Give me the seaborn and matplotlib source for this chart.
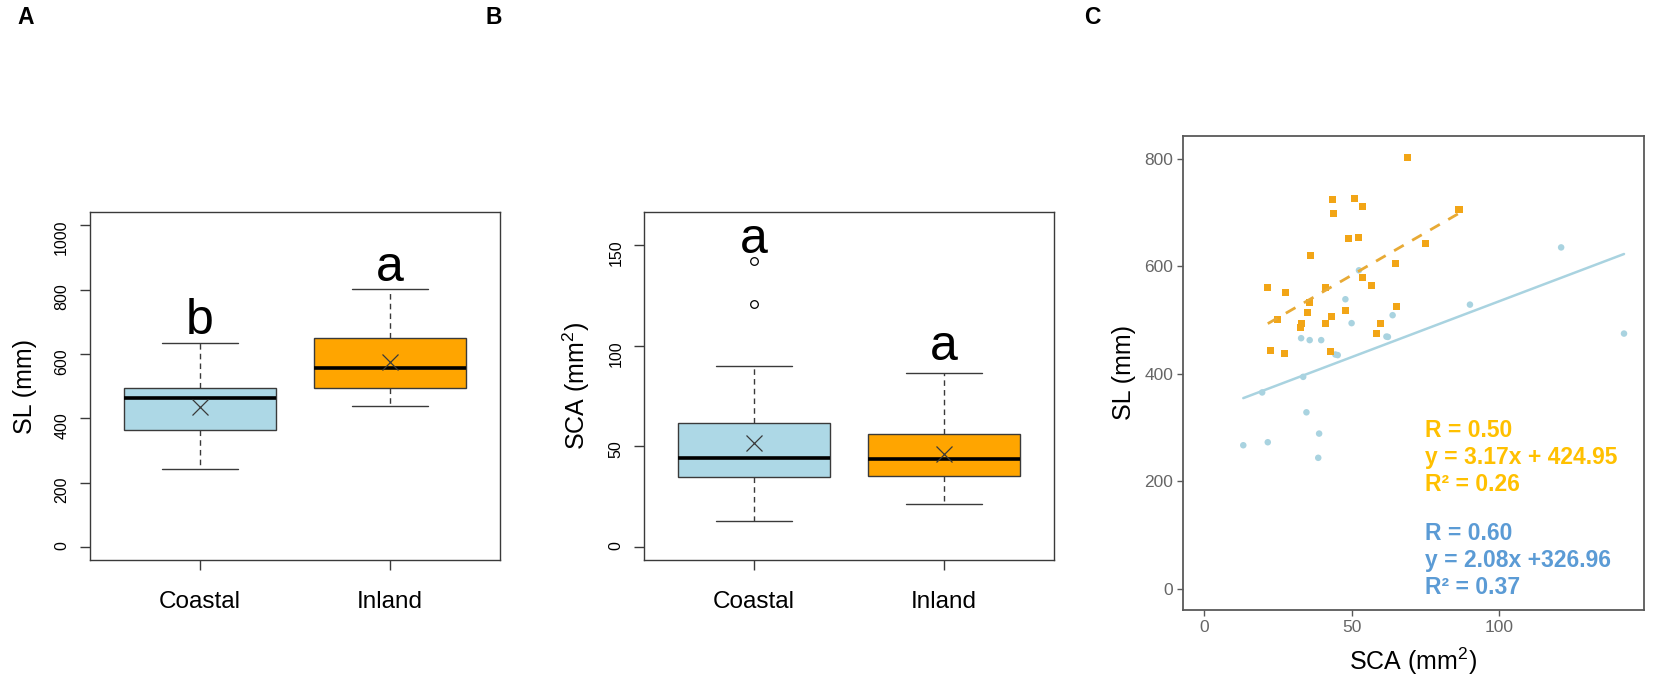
import numpy as np
import pandas as pd
import seaborn as sns
import matplotlib.pyplot as plt

# ---- data ----
sites = ["Coastal", "Inland"]
box_colors = ["#ADD8E6", "#FFA500"]

# coastal fish (SCA mm2, SL mm)
coastal_sca = [13.2, 19.6, 21.5, 32.8, 33.5, 34.6, 35.7, 38.6, 38.9, 39.6, 44.4,
               45.2, 47.8, 49.9, 52.4, 61.7, 62.2, 63.8, 90.0, 120.9, 142.2]
coastal_sl = [266.7, 365.0, 272.3, 466.0, 394.0, 328.0, 462.4, 243.3, 288.4, 462.4, 435.6,
              434.5, 538.5, 494.0, 592.4, 469.0, 468.4, 508.8, 528.5, 635.0, 474.6]

# inland fish
inland_sca = [68.8, 43.5, 50.8, 53.7, 43.7, 86.3, 48.8, 52.3, 74.9, 35.9, 64.8, 21.5,
              41.0, 27.6, 53.5, 56.8, 35.7, 47.9, 35.0, 65.2, 43.0, 24.7, 32.8, 32.5,
              41.1, 59.6, 58.2, 22.4, 27.3, 42.6]
inland_sl = [802.8, 724.8, 726.6, 710.5, 698.8, 706.2, 652.4, 654.2, 642.5, 619.5, 604.6, 560.8,
             560.8, 551.5, 578.6, 564.5, 532.2, 517.4, 513.6, 524.2, 507.0, 500.7, 493.2, 485.2,
             492.7, 492.7, 474.1, 443.8, 437.0, 442.0]

# significance letters and where they sit (baseline, in data units)
letters_sl = ["b", "a"]
letters_sl_y = [662, 827]
letters_sca = ["a", "a"]
letters_sca_y = [146, 93]

# regression fits printed on panel C
fit_slope = {"Inland": 3.17, "Coastal": 2.08}
fit_icpt = {"Inland": 424.95, "Coastal": 326.96}
inland_txt = ["R = 0.50", "y = 3.17x + 424.95", "R² = 0.26"]
coastal_txt = ["R = 0.60", "y = 2.08x +326.96", "R² = 0.37"]

df = pd.DataFrame({
    "site": ["Coastal"] * len(coastal_sca) + ["Inland"] * len(inland_sca),
    "SCA": coastal_sca + inland_sca,
    "SL": coastal_sl + inland_sl,
})

# ---- style ----
sns.set_theme(style="ticks")
plt.rcParams["font.family"] = ["Liberation Sans", "DejaVu Sans"]
plt.rcParams["mathtext.fontset"] = "custom"
plt.rcParams["mathtext.rm"] = "Liberation Sans"
plt.rcParams["mathtext.it"] = "Liberation Sans:italic"
plt.rcParams["mathtext.bf"] = "Liberation Sans:bold"
plt.rcParams["text.color"] = "black"
plt.rcParams["axes.labelcolor"] = "black"
plt.rcParams["xtick.color"] = "black"
plt.rcParams["ytick.color"] = "black"

fig = plt.figure(figsize=(16.54, 6.87), dpi=100)
axA = fig.add_axes([0.0544, 0.1849, 0.2479, 0.5061])
axB = fig.add_axes([0.3895, 0.1849, 0.2477, 0.5061])
axC = fig.add_axes([0.7151, 0.1121, 0.2789, 0.6904])

line_col = "#3a3a3a"
box_kw = dict(
    data=df, x="site", hue="site", order=sites, hue_order=sites,
    palette=box_colors, saturation=1, legend=False, width=0.8, whis=1.5,
    linecolor=line_col, linewidth=1,
    showmeans=True,
    meanprops=dict(marker="x", markeredgecolor=line_col, markersize=11, markeredgewidth=0.9),
    medianprops=dict(color="black", linewidth=2.6),
    whiskerprops=dict(linestyle=(0, (4, 3))),
    flierprops=dict(marker="o", markerfacecolor="none", markeredgecolor="black",
                    markersize=5.5, markeredgewidth=0.9),
    capwidths=0.4,
)


def r_style(ax, ylab, yticks, ylim):
    ax.set_xlim(-0.58, 1.58)
    ax.set_ylim(*ylim)
    ax.set_yticks(yticks)
    ax.set_xlabel("")
    ax.set_ylabel(ylab, fontsize=18)
    for s in ax.spines.values():
        s.set_visible(True)
        s.set_color(line_col)
        s.set_linewidth(1)
    ax.tick_params(axis="both", direction="out", length=7, width=1, color=line_col,
                   labelcolor="black")
    ax.tick_params(axis="y", labelrotation=90, labelsize=11.5, pad=8)
    ax.tick_params(axis="x", labelsize=17.5, pad=15)
    ax.yaxis.set_label_coords(-0.128, 0.5)


# ---- A: SL ----
sns.boxplot(y="SL", ax=axA, **box_kw)
r_style(axA, "SL (mm)", [0, 200, 400, 600, 800, 1000], (-40, 1040))
for i, (lt, yy) in enumerate(zip(letters_sl, letters_sl_y)):
    axA.text(i, yy, lt, fontsize=36, ha="center", va="baseline", color="black")

# ---- B: SCA ----
sns.boxplot(y="SCA", ax=axB, **box_kw)
r_style(axB, "SCA (mm$^2$)", [0, 50, 100, 150], (-6.4, 166.4))
for i, (lt, yy) in enumerate(zip(letters_sca, letters_sca_y)):
    axB.text(i, yy, lt, fontsize=36, ha="center", va="baseline", color="black")

# ---- C: scatter ----
grey = "#595959"
sns.scatterplot(data=df[df.site == "Coastal"], x="SCA", y="SL", ax=axC,
                color="#A9D3E0", marker="o", s=22, edgecolor="none", zorder=2)
cx = df[df.site == "Coastal"].SCA
cx = np.array([cx.min(), cx.max()])
sns.lineplot(x=cx, y=fit_slope["Coastal"] * cx + fit_icpt["Coastal"], ax=axC,
             color="#A9D3E0", linewidth=1.8, zorder=2)
sns.scatterplot(data=df[df.site == "Inland"], x="SCA", y="SL", ax=axC,
                color="#F2A516", marker="s", s=26, edgecolor="none", zorder=3)
ix = df[df.site == "Inland"].SCA
ix = np.array([ix.min(), ix.max()])
sns.lineplot(x=ix, y=fit_slope["Inland"] * ix + fit_icpt["Inland"], ax=axC,
             color="#E8AA35", linewidth=2, linestyle=(0, (4, 3.5)), zorder=4)

axC.set_xlim(-7.3, 149)
axC.set_ylim(-40, 843)
axC.set_xticks([0, 50, 100])
axC.set_yticks([0, 200, 400, 600, 800])
for s in axC.spines.values():
    s.set_visible(True)
    s.set_color(grey)
    s.set_linewidth(1.3)
axC.tick_params(axis="both", direction="out", length=4, width=1, color=grey,
                labelcolor="#666666", labelsize=12.5, pad=3)
axC.set_xlabel("SCA (mm$^2$)", fontsize=18, labelpad=8)
axC.set_ylabel("SL (mm)", fontsize=18)
axC.yaxis.set_label_coords(-0.101, 0.5)

for k, t in enumerate(inland_txt):
    axC.text(74.8, 294 - 50 * k, t, color="#FFC000", fontsize=16.5,
             fontweight="bold", va="center", ha="left")
for k, t in enumerate(coastal_txt):
    axC.text(74.8, 102 - 50 * k, t, color="#5B9BD5", fontsize=16.5,
             fontweight="bold", va="center", ha="left")

# panel tags
for tag, xp in zip(["A", "B", "C"], [17, 486, 1084]):
    fig.text(xp / 1654, 1 - 6 / 687, tag, fontsize=16.5, fontweight="bold",
             va="top", ha="left", color="black")

fig.savefig("out.png", dpi=100)
